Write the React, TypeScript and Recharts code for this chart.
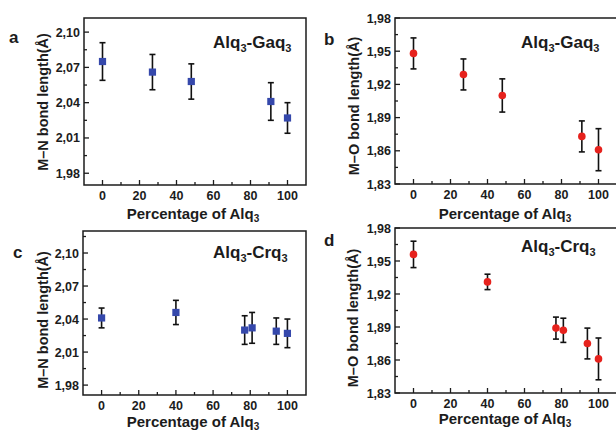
import React from 'react';
import { ScatterChart, Scatter, XAxis, YAxis, ErrorBar, ReferenceArea } from 'recharts';

// percentage of Alq3 for each sample
const gaqPercent = [0, 27, 48, 91, 100];
const crqPercent = [0, 40, 77, 81, 94, 100];

// M-N bond length (A) and error
const gaqMN = [2.075, 2.066, 2.058, 2.041, 2.027];
const gaqMNErr = [0.016, 0.015, 0.015, 0.016, 0.013];
const crqMN = [2.041, 2.046, 2.030, 2.032, 2.029, 2.027];
const crqMNErr = [0.009, 0.011, 0.013, 0.014, 0.012, 0.013];

// M-O bond length (A) and error
const gaqMO = [1.948, 1.929, 1.910, 1.873, 1.861];
const gaqMOErr = [0.014, 0.014, 0.015, 0.014, 0.019];
const crqMO = [1.956, 1.931, 1.889, 1.887, 1.875, 1.861];
const crqMOErr = [0.012, 0.007, 0.010, 0.011, 0.014, 0.019];

// tick labels
const xMajor = [0, 20, 40, 60, 80, 100];
const xTicks = [0, 10, 20, 30, 40, 50, 60, 70, 80, 90, 100];
const mnMajor = [1.98, 2.01, 2.04, 2.07, 2.10];
const mnTicksA = [1.98, 1.995, 2.01, 2.025, 2.04, 2.055, 2.07, 2.085, 2.10];
const mnTicksC = [1.98, 1.995, 2.01, 2.025, 2.04, 2.055, 2.07, 2.085, 2.10, 2.115];
const moMajor = [1.83, 1.86, 1.89, 1.92, 1.95, 1.98];
const moTicks = [1.83, 1.845, 1.86, 1.875, 1.89, 1.905, 1.92, 1.935, 1.95, 1.965, 1.98];

const FONT = '"Liberation Sans", Arial, sans-serif';
const INK = '#1c1c1c';
const BLUE = '#3548ab';
const RED = '#e6221d';
const GAP = 4;
const AXIS_W = 40;
const AXIS_H = 20;

const fmt = (v: number) => v.toFixed(2).replace('.', ',');
const isIn = (list: number[], v: number) => list.some(m => Math.abs(m - v) < 1e-6);

const makeYTick = (majors: number[]) => (props: any) => {
  const { x, y, payload } = props;
  const major = isIn(majors, payload.value);
  const ax = x + GAP;
  return (
    <g>
      <line x1={ax} x2={ax + (major ? 5 : 3)} y1={y} y2={y} stroke={INK} strokeWidth={1.3} />
      {major && (
        <text x={x} y={y} dy="0.36em" textAnchor="end" fontFamily={FONT} fontWeight="bold" fontSize={12.5} fill={INK}>
          {fmt(payload.value)}
        </text>
      )}
    </g>
  );
};

const xTick = (props: any) => {
  const { x, y, payload } = props;
  const major = isIn(xMajor, payload.value);
  const ay = y - GAP;
  return (
    <g>
      <line x1={x} x2={x} y1={ay} y2={ay - (major ? 5 : 3)} stroke={INK} strokeWidth={1.3} />
      {major && (
        <text x={x} y={y} dy="0.85em" textAnchor="middle" fontFamily={FONT} fontWeight="bold" fontSize={12.5} fill={INK}>
          {payload.value}
        </text>
      )}
    </g>
  );
};

const squareShape = (p: any) => <rect x={p.cx - 3.6} y={p.cy - 3.6} width={7.2} height={7.2} fill={BLUE} />;
const circleShape = (p: any) => <circle cx={p.cx} cy={p.cy} r={3.8} fill={RED} />;

interface PanelProps {
  left: number;
  top: number;
  width: number;
  height: number;
  box: { top: number; right: number; bottom: number; left: number };
  xs: number[];
  ys: number[];
  errs: number[];
  domain: [number, number];
  ticks: number[];
  majors: number[];
  marker: 'square' | 'circle';
}

const Panel: React.FC<PanelProps> = ({ left, top, width, height, box, xs, ys, errs, domain, ticks, majors, marker }) => {
  const data = xs.map((x, i) => ({ x, y: ys[i], err: errs[i] }));
  const margin = { top: box.top, right: box.right, bottom: box.bottom - AXIS_H, left: box.left - AXIS_W };
  return (
    <div style={{ position: 'absolute', left, top }}>
      <ScatterChart width={width} height={height} margin={margin}>
        <XAxis
          type="number"
          dataKey="x"
          domain={[-10, 110]}
          allowDataOverflow
          ticks={xTicks}
          interval={0}
          height={AXIS_H}
          tickSize={0}
          tickMargin={GAP}
          axisLine={false}
          tick={xTick}
        />
        <YAxis
          type="number"
          dataKey="y"
          domain={domain}
          allowDataOverflow
          ticks={ticks}
          interval={0}
          width={AXIS_W}
          tickSize={0}
          tickMargin={GAP}
          axisLine={false}
          tick={makeYTick(majors)}
        />
        <ReferenceArea x1={-10} x2={110} y1={domain[0]} y2={domain[1]} fill="none" stroke={INK} strokeWidth={1.5} fillOpacity={0} />
        <Scatter data={data} isAnimationActive={false} shape={marker === 'square' ? squareShape : circleShape}>
          <ErrorBar dataKey="err" direction="y" width={3} stroke="#111" strokeWidth={1.6} />
        </Scatter>
      </ScatterChart>
    </div>
  );
};

const Title: React.FC<{ x: number; y: number; metal: string }> = ({ x, y, metal }) => (
  <text x={x} y={y} fontFamily={FONT} fontWeight="bold" fontSize={17} fill={INK}>
    Alq<tspan dy={4} fontSize={11}>3</tspan>
    <tspan dy={-4}>-{metal}q</tspan>
    <tspan dy={4} fontSize={11}>3</tspan>
  </text>
);

const XTitle: React.FC<{ x: number; y: number }> = ({ x, y }) => (
  <text x={x} y={y} textAnchor="middle" fontFamily={FONT} fontWeight="bold" fontSize={15} fill={INK}>
    Percentage of Alq<tspan dy={3} fontSize={10}>3</tspan>
  </text>
);

const YTitle: React.FC<{ x: number; y: number; label: string }> = ({ x, y, label }) => (
  <text
    x={x}
    y={y}
    transform={`rotate(-90 ${x} ${y})`}
    textAnchor="middle"
    dominantBaseline="central"
    fontFamily={FONT}
    fontWeight="bold"
    fontSize={14.5}
    fill={INK}
  >
    {label}
  </text>
);

const Letter: React.FC<{ x: number; y: number; t: string }> = ({ x, y, t }) => (
  <text x={x} y={y} fontFamily={FONT} fontWeight="bold" fontSize={17} fill={INK}>
    {t}
  </text>
);

export default function App() {
  return (
    <div style={{ position: 'absolute', left: 0, top: 0, width: 616, height: 432, overflow: 'hidden', background: '#fff' }}>
      <Panel
        left={0} top={0} width={308} height={216}
        box={{ top: 18, right: 2, bottom: 31, left: 84 }}
        xs={gaqPercent} ys={gaqMN} errs={gaqMNErr}
        domain={[1.97, 2.112]} ticks={mnTicksA} majors={mnMajor} marker="square"
      />
      <Panel
        left={308} top={0} width={312} height={216}
        box={{ top: 18, right: 3, bottom: 32, left: 87 }}
        xs={gaqPercent} ys={gaqMO} errs={gaqMOErr}
        domain={[1.83, 1.98]} ticks={moTicks} majors={moMajor} marker="circle"
      />
      <Panel
        left={0} top={216} width={308} height={216}
        box={{ top: 15, right: 2, bottom: 37, left: 83 }}
        xs={crqPercent} ys={crqMN} errs={crqMNErr}
        domain={[1.971, 2.12]} ticks={mnTicksC} majors={mnMajor} marker="square"
      />
      <Panel
        left={308} top={216} width={312} height={216}
        box={{ top: 12, right: 3, bottom: 39, left: 87 }}
        xs={crqPercent} ys={crqMO} errs={crqMOErr}
        domain={[1.83, 1.98]} ticks={moTicks} majors={moMajor} marker="circle"
      />
      <svg width={616} height={432} style={{ position: 'absolute', left: 0, top: 0, pointerEvents: 'none' }}>
        <Letter x={9} y={43} t="a" />
        <Letter x={324} y={45} t="b" />
        <Letter x={13} y={258} t="c" />
        <Letter x={324} y={246} t="d" />
        <Title x={213} y={48} metal="Ga" />
        <Title x={521} y={48} metal="Ga" />
        <Title x={213} y={258} metal="Cr" />
        <Title x={521} y={252} metal="Cr" />
        <YTitle x={43} y={102} label="M–N bond length(Å)" />
        <YTitle x={354} y={106} label="M–O bond length(Å)" />
        <YTitle x={43} y={320} label="M–N bond length(Å)" />
        <YTitle x={353} y={318} label="M–O bond length(Å)" />
        <XTitle x={193} y={219} />
        <XTitle x={505} y={219} />
        <XTitle x={193} y={427} />
        <XTitle x={505} y={424} />
      </svg>
    </div>
  );
}
